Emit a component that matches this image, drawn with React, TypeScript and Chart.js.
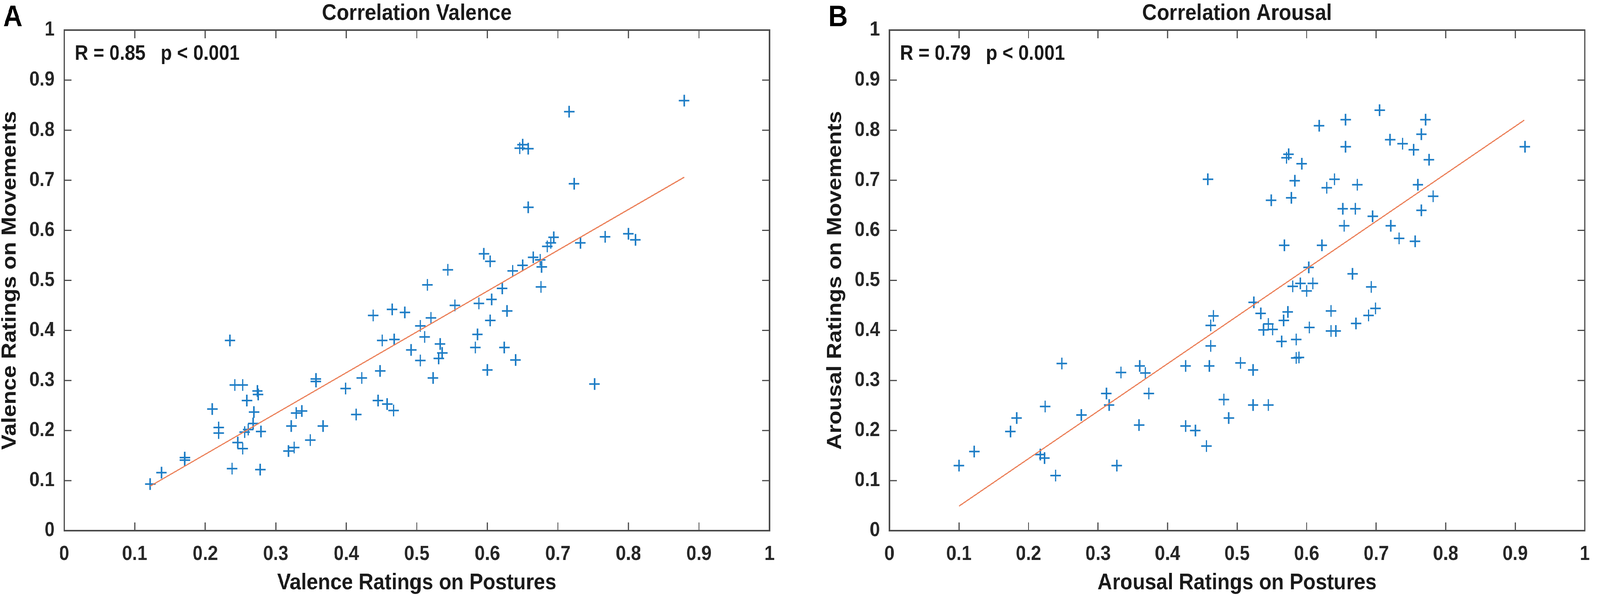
import { useEffect, useRef } from 'react';
import { Chart, registerables } from 'chart.js';

Chart.register(...registerables);

// Panel A : valence (postures on x, movements on y)
const valencePostures = [
  0.122, 0.138, 0.171, 0.171, 0.21, 0.219, 0.219, 0.235, 0.238, 0.242, 0.253, 0.246,
  0.253, 0.259, 0.256, 0.261, 0.269, 0.268, 0.274, 0.275, 0.279, 0.278, 0.318, 0.326,
  0.322, 0.329, 0.337, 0.349, 0.357, 0.357, 0.367, 0.399, 0.414, 0.422, 0.438, 0.448,
  0.451, 0.445, 0.458, 0.467, 0.465, 0.468, 0.483, 0.492, 0.505, 0.505,
  0.511, 0.52, 0.515, 0.523, 0.533, 0.536, 0.531, 0.544, 0.554, 0.583, 0.586, 0.588,
  0.6, 0.604, 0.606, 0.621, 0.624, 0.628, 0.64, 0.676, 0.752,
  0.879, 0.716, 0.646, 0.65, 0.658, 0.723, 0.658, 0.595, 0.604, 0.636, 0.65, 0.665,
  0.675, 0.677, 0.685, 0.69, 0.694, 0.732, 0.767, 0.8, 0.81,
];
const valenceMovements = [
  0.093, 0.116, 0.141, 0.146, 0.243, 0.206, 0.195, 0.38, 0.124, 0.291, 0.291, 0.176,
  0.164, 0.26, 0.197, 0.202, 0.237, 0.214, 0.279, 0.272, 0.198, 0.122, 0.159, 0.166,
  0.209, 0.235, 0.239, 0.181, 0.303, 0.298, 0.209, 0.284, 0.232, 0.305, 0.43, 0.319,
  0.38, 0.26, 0.253, 0.24, 0.442, 0.382, 0.436, 0.361, 0.34, 0.409,
  0.387, 0.425, 0.491, 0.305, 0.373, 0.355, 0.344, 0.521, 0.45, 0.366, 0.392, 0.454,
  0.321, 0.42, 0.462, 0.484, 0.366, 0.439, 0.341, 0.487, 0.293,
  0.859, 0.837, 0.764, 0.771, 0.763, 0.693, 0.646, 0.553, 0.538, 0.519, 0.53, 0.546,
  0.541, 0.527, 0.568, 0.575, 0.586, 0.575, 0.587, 0.593, 0.581,
];
const valenceFitX = [0.122, 0.879];
const valenceFitY = [0.089, 0.706];

// Panel B : arousal
const arousalPostures = [
  0.1, 0.122, 0.174, 0.183, 0.224, 0.217, 0.223, 0.239, 0.248, 0.276, 0.312, 0.316,
  0.327, 0.333, 0.36, 0.368, 0.373, 0.359, 0.426, 0.426, 0.44, 0.456, 0.46, 0.462,
  0.462, 0.466,
  0.481, 0.488, 0.505, 0.523, 0.523, 0.545, 0.524, 0.534, 0.538, 0.545, 0.551, 0.564,
  0.567, 0.573, 0.585, 0.585, 0.589, 0.58, 0.591, 0.6, 0.609, 0.604, 0.635, 0.635,
  0.642, 0.671, 0.689, 0.699, 0.693,
  0.705, 0.656, 0.771, 0.618, 0.765, 0.72, 0.738, 0.754, 0.656, 0.914, 0.574, 0.571,
  0.776, 0.593, 0.458, 0.583, 0.64, 0.629, 0.673, 0.76, 0.782, 0.549, 0.578, 0.652,
  0.67, 0.765, 0.695, 0.654, 0.721, 0.733, 0.756, 0.568, 0.622, 0.603, 0.666,
];
const arousalMovements = [
  0.13, 0.158, 0.198, 0.225, 0.248, 0.152, 0.145, 0.11, 0.334, 0.231, 0.274, 0.251,
  0.13, 0.316, 0.329, 0.315, 0.274, 0.211, 0.329, 0.209, 0.2, 0.169, 0.329, 0.369,
  0.41, 0.429,
  0.262, 0.225, 0.335, 0.251, 0.321, 0.251, 0.456, 0.434, 0.401, 0.413, 0.402, 0.378,
  0.42, 0.437, 0.382, 0.345, 0.346, 0.488, 0.494, 0.479, 0.494, 0.406, 0.439, 0.399,
  0.399, 0.414, 0.43, 0.444, 0.487,
  0.84, 0.821, 0.821, 0.809, 0.792, 0.781, 0.773, 0.761, 0.767, 0.767, 0.752, 0.745,
  0.741, 0.733, 0.702, 0.699, 0.702, 0.685, 0.691, 0.691, 0.668, 0.66, 0.665, 0.643,
  0.643, 0.64, 0.628, 0.609, 0.609, 0.584, 0.578, 0.57, 0.57, 0.526, 0.513,
];
const arousalFitX = [0.1, 0.913];
const arousalFitY = [0.049, 0.82];

const tickValues = [0, 0.1, 0.2, 0.3, 0.4, 0.5, 0.6, 0.7, 0.8, 0.9, 1];
const tickLabels = ['0', '0.1', '0.2', '0.3', '0.4', '0.5', '0.6', '0.7', '0.8', '0.9', '1'];

const FONT = "'Liberation Sans', Arial, Helvetica, sans-serif";
const W = 4562;
const H = 1538;

type PanelProps = {
  left: number;
  width: number;
  letter: string;
  title: string;
  xTitle: string;
  yTitle: string;
  xs: number[];
  ys: number[];
  fitX: number[];
  fitY: number[];
  stats: [string, string];
};

const labelFor = (v: number) => {
  const i = tickValues.findIndex((t) => Math.abs(t - v) < 1e-9);
  return i >= 0 ? tickLabels[i] : '';
};

// boîte MATLAB : cadre + graduations vers l'intérieur + lettre du panneau + R/p
const boxPlugin = (letter: string, stats: [string, string]) => ({
  id: 'matlabBox',
  afterDraw(chart: any) {
    const { ctx, chartArea: a, scales } = chart;
    const sx = scales.x;
    const sy = scales.y;
    ctx.save();
    ctx.strokeStyle = '#4a4a4a';
    ctx.lineWidth = 3;
    ctx.beginPath();
    for (const v of tickValues) {
      const px = sx.getPixelForValue(v);
      ctx.moveTo(px, a.bottom);
      ctx.lineTo(px, a.bottom - 21);
      ctx.moveTo(px, a.top);
      ctx.lineTo(px, a.top + 21);
      const py = sy.getPixelForValue(v);
      ctx.moveTo(a.left, py);
      ctx.lineTo(a.left + 21, py);
      ctx.moveTo(a.right, py);
      ctx.lineTo(a.right - 21, py);
    }
    ctx.stroke();
    ctx.lineWidth = 4;
    ctx.strokeRect(a.left, a.top, a.right - a.left, a.bottom - a.top);

    ctx.fillStyle = '#000';
    ctx.textBaseline = 'alphabetic';
    ctx.textAlign = 'left';
    ctx.font = `bold 76px ${FONT}`;
    ctx.fillText(letter, 9, 67);
    ctx.fillStyle = '#1a1a1a';
    ctx.font = `bold 53px ${FONT}`;
    ctx.fillText(stats[0], a.left + 30, 153);
    ctx.fillText(stats[1], a.left + 275, 153);
    ctx.restore();
  },
});

const Panel = ({ left, width, letter, title, xTitle, yTitle, xs, ys, fitX, fitY, stats }: PanelProps) => {
  const canvasRef = useRef<HTMLCanvasElement>(null);
  const chartRef = useRef<Chart | null>(null);

  useEffect(() => {
    if (chartRef.current) chartRef.current.destroy();
    const canvas = canvasRef.current;
    if (!canvas) return;
    const ctx = canvas.getContext('2d');
    if (!ctx) return;

    const tickFont = { family: FONT, size: 52, weight: 'bold' as const };
    const titleFont = { family: FONT, size: 58, weight: 'bold' as const, lineHeight: 1.2 };

    chartRef.current = new Chart(ctx, {
      type: 'scatter',
      data: {
        datasets: [
          {
            type: 'line',
            data: fitX.map((x, i) => ({ x, y: fitY[i] })),
            borderColor: '#eb7d55',
            borderWidth: 3,
            pointRadius: 0,
            fill: false,
          } as any,
          {
            type: 'scatter',
            data: xs.map((x, i) => ({ x, y: ys[i] })),
            pointStyle: 'cross',
            pointRadius: 15,
            pointHoverRadius: 15,
            borderWidth: 4,
            borderColor: '#1c7cc5',
            backgroundColor: '#1c7cc5',
          },
        ],
      },
      options: {
        animation: false,
        responsive: false,
        devicePixelRatio: 1,
        events: [],
        layout: { padding: { left: 0, top: 0, right: width - 2194, bottom: 0 } },
        plugins: {
          legend: { display: false },
          tooltip: { enabled: false },
          title: {
            display: true,
            text: title,
            fullSize: false,
            color: '#1a1a1a',
            font: titleFont,
            padding: { top: 0, bottom: 7.4 },
          },
        },
        scales: {
          x: {
            type: 'linear',
            position: 'bottom',
            min: 0,
            max: 1,
            afterBuildTicks: (s: any) => {
              s.ticks = tickValues.map((value) => ({ value }));
            },
            afterFit: (s: any) => {
              s.height = H - 1358;
            },
            ticks: {
              autoSkip: false,
              maxRotation: 0,
              padding: 29,
              color: '#262626',
              font: tickFont,
              callback: (v: any) => labelFor(Number(v)),
            },
            grid: { display: false, drawTicks: false },
            border: { display: false },
            title: {
              display: true,
              text: xTitle,
              color: '#1a1a1a',
              font: titleFont,
              padding: { top: 0, bottom: 11 },
            },
          },
          y: {
            type: 'linear',
            position: 'left',
            min: 0,
            max: 1,
            afterBuildTicks: (s: any) => {
              s.ticks = tickValues.map((value) => ({ value }));
            },
            afterFit: (s: any) => {
              s.width = 183;
            },
            ticks: {
              autoSkip: false,
              padding: 27,
              color: '#262626',
              font: tickFont,
              callback: (v: any) => labelFor(Number(v)),
            },
            grid: { display: false, drawTicks: false },
            border: { display: false },
            title: {
              display: true,
              text: yTitle,
              color: '#1a1a1a',
              font: { ...titleFont, lineHeight: 1.0 },
              padding: { top: 0, bottom: 0 },
            },
          },
        },
      },
      plugins: [boxPlugin(letter, stats)],
    });

    return () => {
      if (chartRef.current) {
        chartRef.current.destroy();
        chartRef.current = null;
      }
    };
  }, []);

  return (
    <div style={{ position: 'absolute', left, top: 0, width, height: H }}>
      <canvas ref={canvasRef} width={width} height={H} style={{ width, height: H, display: 'block' }} />
    </div>
  );
};

export default function App() {
  // la fenêtre réelle peut être plus étroite que 4562 px : on comprime la figure pour qu'elle tienne
  const scaleX = Math.min(1, window.innerWidth / W);
  const scaleY = Math.min(1, window.innerHeight / H);

  useEffect(() => {
    document.body.style.margin = '0';
    document.body.style.overflow = 'hidden';
  }, []);

  return (
    <div
      style={{
        position: 'absolute',
        left: 0,
        top: 0,
        width: W,
        height: H,
        background: '#fff',
        overflow: 'hidden',
        transform: `scale(${scaleX}, ${scaleY})`,
        transformOrigin: '0 0',
      }}
    >
      <Panel
        left={0}
        width={2353}
        letter="A"
        title="Correlation Valence"
        xTitle="Valence Ratings on Postures"
        yTitle="Valence Ratings on Movements"
        xs={valencePostures}
        ys={valenceMovements}
        fitX={valenceFitX}
        fitY={valenceFitY}
        stats={['R = 0.85', 'p < 0.001']}
      />
      <Panel
        left={2353}
        width={2209}
        letter="B"
        title="Correlation Arousal"
        xTitle="Arousal Ratings on Postures"
        yTitle="Arousal Ratings on Movements"
        xs={arousalPostures}
        ys={arousalMovements}
        fitX={arousalFitX}
        fitY={arousalFitY}
        stats={['R = 0.79', 'p < 0.001']}
      />
    </div>
  );
}
